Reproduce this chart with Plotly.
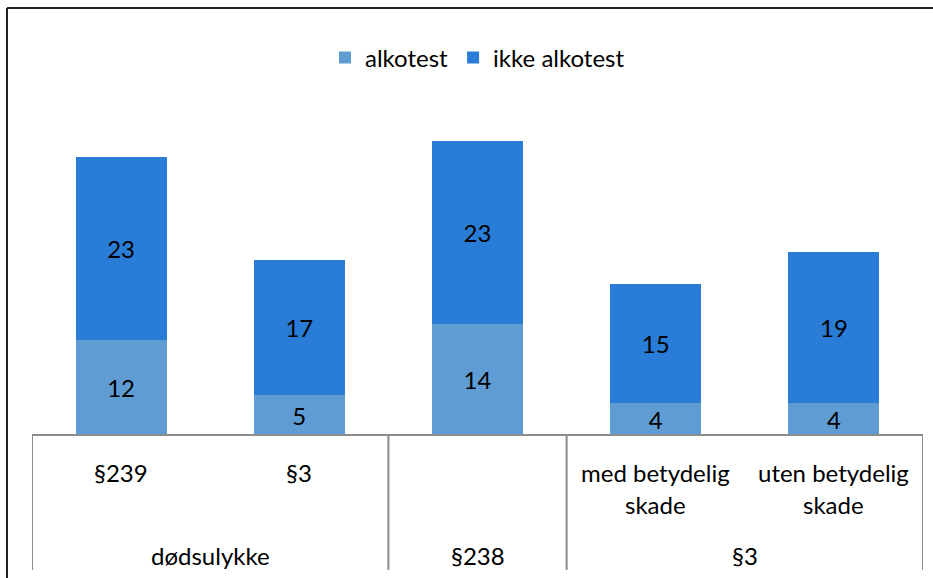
import plotly.graph_objects as go

sub_labels = ["§239", "§3", "", "med betydelig\nskade", "uten betydelig\nskade"]
group_labels = ["dødsulykke", "§238", "§3"]
group_spans = [(0, 1), (2, 2), (3, 4)]
alkotest = [12, 5, 14, 4, 4]
ikke_alkotest = [23, 17, 23, 15, 19]

FONT = "Lato"
FS = 24
W, H = 933, 578
ml, mr, mt, mb = 32, 10, 117, 143
ph = H - mt - mb
pw = W - ml - mr

def py(pix):
    return (H - mb - pix) / ph

def px(pix):
    return (pix - ml) / pw

x = list(range(len(alkotest)))
fig = go.Figure()
fig.add_bar(x=x, y=alkotest, name="alkotest", marker_color="#5F9CD3",
            marker_line_width=0,
            text=alkotest, textposition="inside", insidetextanchor="middle",
            textangle=0, constraintext="none",
            textfont=dict(color="black", size=FS, family=FONT), width=0.51)
fig.add_bar(x=x, y=ikke_alkotest, name="ikke alkotest", marker_color="#2A7DD6",
            marker_line_width=0,
            text=ikke_alkotest, textposition="inside", insidetextanchor="middle",
            textangle=0, constraintext="none",
            textfont=dict(color="black", size=FS, family=FONT), width=0.51)

shapes = []
ann = []
n = len(x)
bounds = [-0.5] + [g[1] + 0.5 for g in group_spans]
for b in bounds:
    shapes.append(dict(type="line", xref="x", yref="paper", x0=b, x1=b,
                       y0=0, y1=py(570), line=dict(color="#8C8C8C", width=2)))
shapes.append(dict(type="line", xref="x", yref="paper", x0=-0.5, x1=n - 0.5,
                   y0=0, y1=0, line=dict(color="#8C8C8C", width=2)))
# outer frame
shapes.append(dict(type="line", xref="paper", yref="paper", x0=px(7), x1=px(940),
                   y0=py(8), y1=py(8), line=dict(color="#222222", width=2)))
shapes.append(dict(type="line", xref="paper", yref="paper", x0=px(7), x1=px(7),
                   y0=py(8), y1=py(580), line=dict(color="#222222", width=2)))

for i, lab in enumerate(sub_labels):
    for k, line in enumerate(lab.split("\n")):
        if not line:
            continue
        ann.append(dict(x=i, xref="x", y=py(472 + 32 * k), yref="paper", text=line,
                        showarrow=False, yanchor="middle", xanchor="center",
                        font=dict(family=FONT, size=FS, color="black")))
for lab, (a, b) in zip(group_labels, group_spans):
    ann.append(dict(x=(a + b) / 2, xref="x", y=py(555), yref="paper", text=lab,
                    showarrow=False, yanchor="middle", xanchor="center",
                    font=dict(family=FONT, size=FS, color="black")))

fig.update_layout(
    barmode="stack", width=W, height=H,
    margin=dict(l=ml, r=mr, t=mt, b=mb),
    paper_bgcolor="white", plot_bgcolor="white",
    font=dict(family=FONT, size=FS, color="black"),
    xaxis=dict(range=[-0.5, n - 0.5], showticklabels=False, showgrid=False,
               zeroline=False, showline=False),
    yaxis=dict(range=[0, 40], visible=False),
    legend=dict(orientation="h", x=0.5, xanchor="center", y=py(58), yanchor="middle",
                font=dict(family=FONT, size=FS), itemwidth=30, traceorder="normal"),
    uniformtext=dict(minsize=FS, mode="show"),
    shapes=shapes, annotations=ann,
)
fig.write_html("out.html", config={"displayModeBar": False},
               post_script="document.body.style.margin='0';document.body.style.overflow='hidden';")
